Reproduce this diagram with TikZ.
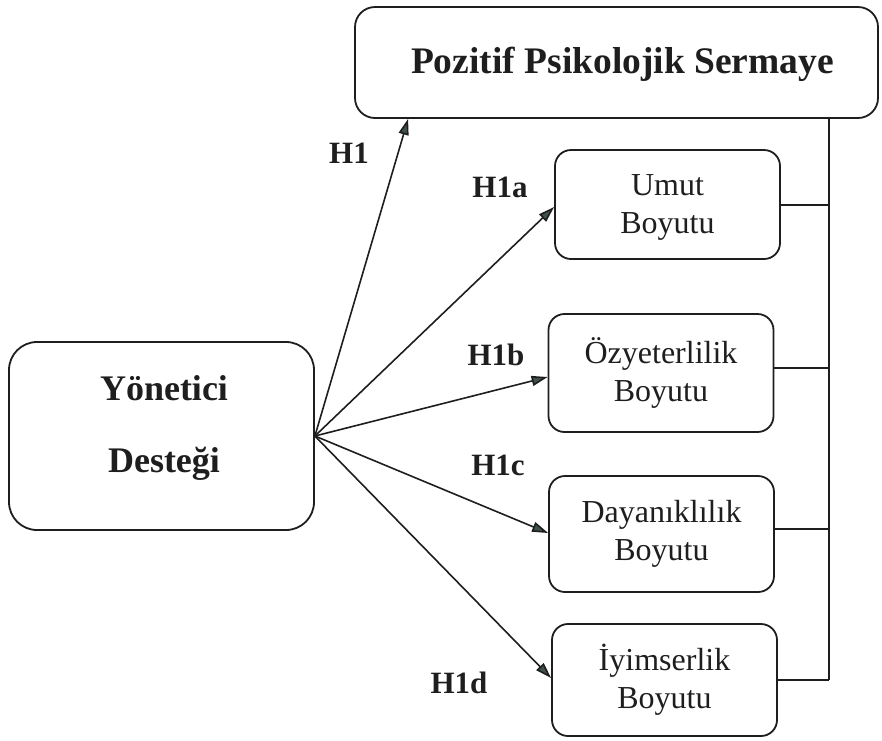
\documentclass[tikz,border=0pt]{standalone}
\usepackage{fontspec}
\setmainfont{Liberation Serif}
\usetikzlibrary{arrows.meta,calc}
\definecolor{ink}{HTML}{1E1E1E}
\definecolor{tipfill}{HTML}{3E5248}
\begin{document}
\begin{tikzpicture}[x=1pt,y=-1pt,
  box/.style={draw=ink,line width=1.8pt,rounded corners=16pt,inner sep=0pt},
  smallbox/.style={box,minimum width=225pt},
  lbl/.style={font=\fontsize{31}{33}\selectfont\bfseries,text=ink},
  boxtxt/.style={font=\fontsize{32}{38}\selectfont,text=ink,align=center},
  arr/.style={draw=ink,line width=1.6pt,-{Triangle[length=16pt,width=10pt,fill=tipfill]}},
  link/.style={draw=ink,line width=1.3pt}]
\useasboundingbox (0,0) rectangle (882,740);
% boxes
\node[box,minimum width=523pt,minimum height=111pt,rounded corners=20pt] (pps) at (616.5,62.5) {};
\node[font=\fontsize{37.5}{40}\selectfont\bfseries,text=ink,anchor=base] (ppst) at (622.5,73) {Pozitif Psikolojik Sermaye};
\node[box,minimum width=305pt,minimum height=188pt,rounded corners=28pt] (yd) at (161.5,436) {};
\node[font=\fontsize{36}{72}\selectfont\bfseries,text=ink,align=center] (ydt) at (164,428) {Yönetici\\Desteği};
\node[smallbox,minimum height=109pt] (umut) at (667.5,204.5) {};
\node[boxtxt] (umutt) at (667.5,207) {Umut\\Boyutu};
\node[smallbox,minimum height=118pt] (oz) at (661,373) {};
\node[boxtxt] (ozt) at (661,373) {Özyeterlilik\\Boyutu};
\node[smallbox,minimum height=116pt] (day) at (661.5,534) {};
\node[boxtxt] (dayt) at (661.5,533.5) {Dayanıklılık\\Boyutu};
\node[smallbox,minimum height=112pt] (iyi) at (664.5,680) {};
\node[boxtxt] (iyit) at (664.5,680) {İyimserlik\\Boyutu};
% labels
\node[lbl] (h1) at (349,153) {H1};
\node[lbl] (h1a) at (500,187.5) {H1a};
\node[lbl] (h1b) at (496,355) {H1b};
\node[lbl] (h1c) at (498,465) {H1c};
\node[lbl] (h1d) at (459,683) {H1d};
% arrows
\coordinate (src) at (yd.east);
\draw[arr] (src) -- ($(pps.south west)+(54,0)$);
\draw[arr] (src) -- ($(umut.west)+(0,2.5)$);
\draw[arr] (src) -- ($(oz.west)+(0,4)$);
\draw[arr] (src) -- ($(day.west)+(0,-1)$);
\draw[arr] (src) -- ($(iyi.west)+(0,-2)$);
% right connector
\coordinate (vtop) at ($(pps.south east)+(-50,0)$);
\coordinate (vbot) at (vtop |- iyi.east);
\draw[link] (vtop) -- (vbot);
\draw[link] ($(umut.east)+(0,0.5)$) -- ($(umut.east -| vtop)+(0,0.5)$);
\draw[link] ($(oz.east)+(0,-5)$) -- ($(oz.east -| vtop)+(0,-5)$);
\draw[link] ($(day.east)+(0,-5)$) -- ($(day.east -| vtop)+(0,-5)$);
\draw[link] (iyi.east) -- (vbot);
\end{tikzpicture}
\end{document}
